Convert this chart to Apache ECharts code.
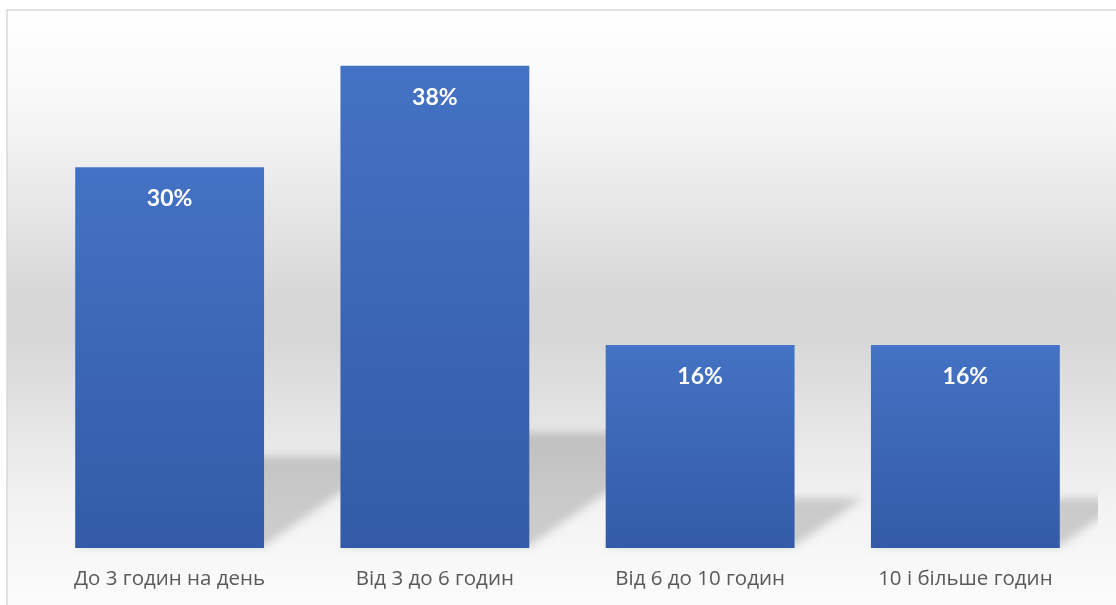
<!DOCTYPE html>
<html>
<head>
<meta charset="utf-8">
<style>
  html, body { margin: 0; padding: 0; background: #ffffff; }
  #chart { width: 1116px; height: 605px; }
</style>
<script src="https://cdn.jsdelivr.net/npm/echarts@6/dist/echarts.min.js"></script>
</head>
<body>
<div id="chart"></div>
<script>
// Скільки годин на день
const categories = ['До 3 годин на день', 'Від 3 до 6 годин', 'Від 6 до 10 годин', '10 і більше годин'];
const shares = [30, 38, 16, 16];

const chart = echarts.init(document.getElementById('chart'), null, { renderer: 'canvas' });

const BAR_RATIO = 0.712;      // bar width as a share of the category band
const SHADOW_SCALE = 0.235;   // height of the cast shadow relative to the bar
const SHADOW_SLANT = 1.43;    // horizontal shift per pixel of shadow height
const OFF = 3000;             // shape drawn off-canvas, only its blurred shadow lands on the plot

function renderShadow(params, api) {
  const idx = api.value(0);
  const val = api.value(1);
  const top = api.coord([idx, val]);
  const base = api.coord([idx, 0]);
  const band = api.size([1, 0])[0];
  const w = band * BAR_RATIO;
  const xL = top[0] - w / 2;
  const xR = top[0] + w / 2;
  const yB = base[1] - 2;
  const h = (base[1] - top[1]) * SHADOW_SCALE;
  const dx = h * SHADOW_SLANT;
  const right = params.coordSys.x + params.coordSys.width;
  // keep the cast shadow inside the plot area
  const clipW = right - (xL - 20);
  return {
    type: 'group',
    children: [{
      type: 'polygon',
      shape: {
        points: [
          [xL - OFF, yB],
          [xR - OFF, yB],
          [xR + dx - OFF, yB - h],
          [xL + dx - OFF, yB - h]
        ]
      },
      style: {
        fill: '#000',
        shadowBlur: 9,
        shadowColor: 'rgba(0,0,0,0.17)',
        shadowOffsetX: OFF,
        shadowOffsetY: 0
      }
    }],
    clipPath: {
      type: 'rect',
      shape: { x: xL - 20, y: yB - h - 30, width: clipW, height: h + 40 }
    }
  };
}

const option = {
  animation: false,
  backgroundColor: '#ffffff',
  graphic: [
    {
      type: 'rect',
      z: -10,
      silent: true,
      shape: { x: 7, y: 10, width: 1120, height: 610 },
      style: {
        fill: new echarts.graphic.LinearGradient(0, 0, 0, 1, [
          { offset: 0, color: '#ffffff' },
          { offset: 0.15, color: '#f8f8f8' },
          { offset: 0.32, color: '#e7e7e7' },
          { offset: 0.47, color: '#d7d7d7' },
          { offset: 0.54, color: '#d7d7d7' },
          { offset: 0.66, color: '#e3e3e3' },
          { offset: 0.8, color: '#f2f2f2' },
          { offset: 1, color: '#fdfdfd' }
        ]),
        stroke: '#d9d9d9',
        lineWidth: 1.5
      }
    }
  ],
  grid: { left: 37, right: 18, top: 40.4, bottom: 57, containLabel: false },
  xAxis: {
    type: 'category',
    data: categories,
    axisLine: { show: false },
    axisTick: { show: false },
    splitLine: { show: false },
    axisLabel: {
      color: '#595959',
      fontFamily: '"Open Sans", sans-serif',
      fontSize: 20.5,
      margin: 21,
      interval: 0
    }
  },
  yAxis: {
    type: 'value',
    min: 0,
    max: 40,
    show: false
  },
  series: [
    {
      type: 'custom',
      z: 1,
      silent: true,
      renderItem: renderShadow,
      data: shares.map((v, i) => [i, v]),
      encode: { x: 0, y: 1 }
    },
    {
      type: 'bar',
      z: 3,
      data: shares,
      barWidth: (BAR_RATIO * 100) + '%',
      itemStyle: {
        color: new echarts.graphic.LinearGradient(0, 0, 0, 1, [
          { offset: 0, color: '#4472c4' },
          { offset: 1, color: '#335ba7' }
        ])
      },
      label: {
        show: true,
        position: 'insideTop',
        distance: 20,
        formatter: '{c}%',
        color: '#ffffff',
        fontFamily: 'Lato, "Open Sans", sans-serif',
        fontWeight: 'bold',
        fontSize: 23
      }
    }
  ]
};

chart.setOption(option);
</script>
</body>
</html>
